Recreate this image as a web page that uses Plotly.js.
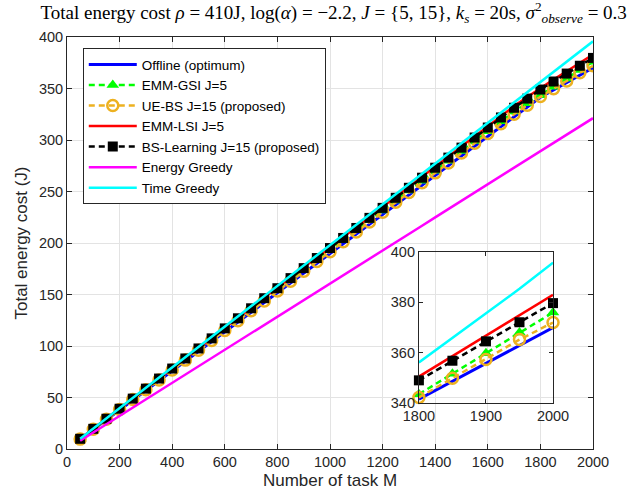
<!DOCTYPE html>
<html>
<head>
<meta charset="utf-8">
<script src="https://cdn.plot.ly/plotly-3.0.1.min.js"></script>
<style>html,body{margin:0;padding:0;background:#fff;}#chart{width:632px;height:497px;}</style>
</head>
<body>
<div id="chart"></div>
<script>
const tasks = [50,100,150,200,250,300,350,400,450,500,550,600,650,700,750,800,850,900,950,1000,1050,1100,1150,1200,1250,1300,1350,1400,1450,1500,1550,1600,1650,1700,1750,1800,1850,1900,1950,2000];
const offline = [9.5,19.0,28.5,38.0,47.5,57.0,66.5,76.0,85.5,95.0,104.5,114.0,123.5,133.0,142.5,152.0,161.5,171.0,180.5,190.0,199.5,209.0,218.5,228.0,237.5,247.0,256.5,266.0,275.5,285.0,294.5,304.0,313.5,322.8,332.2,341.5,348.6,355.6,362.7,370.0];
const emmGsi = [9.7,19.3,29.0,38.6,48.3,57.9,67.6,77.2,86.9,96.5,106.2,115.8,125.5,135.1,144.8,154.4,164.1,173.7,183.4,193.0,202.7,212.3,222.0,231.6,241.3,250.9,260.5,270.2,279.8,289.4,299.0,308.6,318.2,327.6,335.8,343.5,351.6,359.8,368.0,376.0];
const ueBs = [9.6,19.2,28.8,38.4,48.0,57.5,67.1,76.7,86.3,95.9,105.4,115.0,124.6,134.2,143.8,153.3,162.9,172.5,182.1,191.6,201.2,210.8,220.3,229.9,239.5,249.0,258.6,268.1,277.7,287.3,296.8,306.3,315.8,325.0,333.8,342.2,349.8,357.3,365.2,372.0];
const emmLsi = [9.9,19.7,29.5,39.3,49.1,58.9,68.7,78.5,88.3,98.1,107.9,117.7,127.5,137.3,147.1,156.9,166.7,176.5,186.3,196.1,205.9,215.7,225.5,235.3,245.1,254.9,264.7,274.5,284.3,294.1,303.9,313.7,323.5,332.9,341.8,350.5,358.6,366.7,374.9,383.0];
const bsLearning = [9.9,19.6,29.4,39.1,48.9,58.6,68.4,78.1,87.9,97.6,107.4,117.1,126.9,136.6,146.4,156.1,165.9,175.6,185.4,195.1,204.9,214.6,224.4,234.1,243.9,253.6,263.4,273.1,282.9,292.6,302.4,312.1,321.9,331.3,340.2,349.0,356.8,364.5,372.1,379.7];
const energyGreedy = [8.0,16.0,24.1,32.1,40.1,48.2,56.2,64.2,72.3,80.3,88.3,96.4,104.4,112.4,120.5,128.5,136.5,144.5,152.6,160.6,168.6,176.7,184.7,192.7,200.8,208.8,216.8,224.9,232.9,240.9,249.0,257.0,265.0,273.0,281.1,289.1,297.1,305.2,313.2,321.2];
const timeGreedy = [10.0,19.9,29.8,39.7,49.6,59.5,69.4,79.3,89.2,99.1,109.0,118.9,128.8,138.7,148.6,158.5,168.4,178.3,188.2,198.1,208.0,217.9,227.8,237.7,247.6,257.5,267.4,277.3,287.2,297.1,307.0,316.9,326.8,336.7,346.4,356.1,365.8,375.5,385.4,395.8];
const seriesNames = ['Offline (optimum)','EMM-GSI J=5','UE-BS J=15 (proposed)','EMM-LSI J=5','BS-Learning J=15 (proposed)','Energy Greedy','Time Greedy'];
const xTicks = [0,200,400,600,800,1000,1200,1400,1600,1800,2000];
const yTicks = [0,50,100,150,200,250,300,350,400];
const insetXTicks = [1800,1900,2000];
const insetYTicks = [340,360,380,400];
const insetStart = 1800;

const dashPat = '6px,4px';
const styles = [
  {line:{color:'#0000FF',width:3}, mode:'lines'},
  {line:{color:'#00FF00',width:2.5,dash:dashPat}, mode:'lines+markers', marker:{symbol:'triangle-up',size:11,color:'#00FF00'}},
  {line:{color:'#EDB120',width:2.5,dash:dashPat}, mode:'lines+markers', marker:{symbol:'circle-open',size:11,color:'#EDB120',line:{width:2.5,color:'#EDB120'}}},
  {line:{color:'#FF0000',width:2.5}, mode:'lines'},
  {line:{color:'#000000',width:2.5,dash:dashPat}, mode:'lines+markers', marker:{symbol:'square',size:10,color:'#000000'}},
  {line:{color:'#FF00FF',width:2.5}, mode:'lines'},
  {line:{color:'#00FFFF',width:2.5}, mode:'lines'}
];
const allY = [offline, emmGsi, ueBs, emmLsi, bsLearning, energyGreedy, timeGreedy];

const traces = [];
allY.forEach((ys,i)=>{
  traces.push(Object.assign({type:'scatter', x:tasks, y:ys, name:seriesNames[i], xaxis:'x', yaxis:'y', showlegend:true}, JSON.parse(JSON.stringify(styles[i]))));
});
const iStart = tasks.indexOf(insetStart);
allY.forEach((ys,i)=>{
  traces.push(Object.assign({type:'scatter', x:tasks.slice(iStart), y:ys.slice(iStart), name:seriesNames[i], xaxis:'x2', yaxis:'y2', showlegend:false, cliponaxis:false, hoverinfo:'skip'}, JSON.parse(JSON.stringify(styles[i]))));
});

const axCol = '#262626';
const sans = 'Liberation Sans, Arial, sans-serif';
const tickFont = {family:sans, size:14.5, color:axCol};
const layout = {
  width:632, height:497,
  margin:{l:67, r:39, t:37, b:48, pad:0},
  paper_bgcolor:'#ffffff',
  plot_bgcolor:'rgba(0,0,0,0)',
  showlegend:true,
  title:{
    text:'Total energy cost <i>ρ</i> = 410J, log(<i>α</i>) = −2.2, <i>J</i> = {5, 15}, <i>k<sub>s</sub></i> = 20s, <i>σ</i><sup>2</sup><sub><i>observe</i></sub> = 0.3',
    font:{family:'Liberation Serif, Times New Roman, serif', size:19, color:'#000'},
    x:0.528, xanchor:'center', y:0.975, yanchor:'middle'
  },
  xaxis:{
    domain:[0,1], range:[0,2000], tickvals:xTicks, ticktext:xTicks.map(String),
    showgrid:true, gridcolor:'#E3E3E3', gridwidth:1, zeroline:false,
    showline:true, linecolor:axCol, linewidth:1, mirror:'ticks',
    ticks:'inside', ticklen:5, tickcolor:axCol, tickfont:tickFont,
    title:{text:'Number of task M', font:{family:sans, size:17, color:axCol}, standoff:4}
  },
  yaxis:{
    domain:[0,1], range:[0,400], tickvals:yTicks, ticktext:yTicks.map(String),
    showgrid:true, gridcolor:'#E3E3E3', gridwidth:1, zeroline:false,
    showline:true, linecolor:axCol, linewidth:1, mirror:'ticks',
    ticks:'inside', ticklen:5, tickcolor:axCol, tickfont:tickFont,
    title:{text:'Total energy cost (J)', font:{family:sans, size:17, color:axCol}, standoff:6}
  },
  xaxis2:{
    domain:[0.669,0.924], anchor:'y2', range:[1800,2000], tickvals:insetXTicks, ticktext:insetXTicks.map(String),
    showgrid:false, zeroline:false, showline:true, linecolor:axCol, linewidth:1, mirror:'ticks',
    ticks:'inside', ticklen:4, tickcolor:axCol, tickfont:tickFont
  },
  yaxis2:{
    domain:[0.1117,0.478], anchor:'x2', range:[340,400], tickvals:insetYTicks, ticktext:insetYTicks.map(String),
    showgrid:false, zeroline:false, showline:true, linecolor:axCol, linewidth:1, mirror:'ticks',
    ticks:'inside', ticklen:4, tickcolor:axCol, tickfont:tickFont
  },
  legend:{
    x:0.03, y:0.973, xanchor:'left', yanchor:'top',
    bgcolor:'#ffffff', bordercolor:'#262626', borderwidth:1,
    font:{family:sans, size:13.5, color:'#000'},
    tracegroupgap:0, itemwidth:48
  }
};
Plotly.newPlot('chart', traces, layout, {staticPlot:true, displayModeBar:false});
</script>
</body>
</html>
